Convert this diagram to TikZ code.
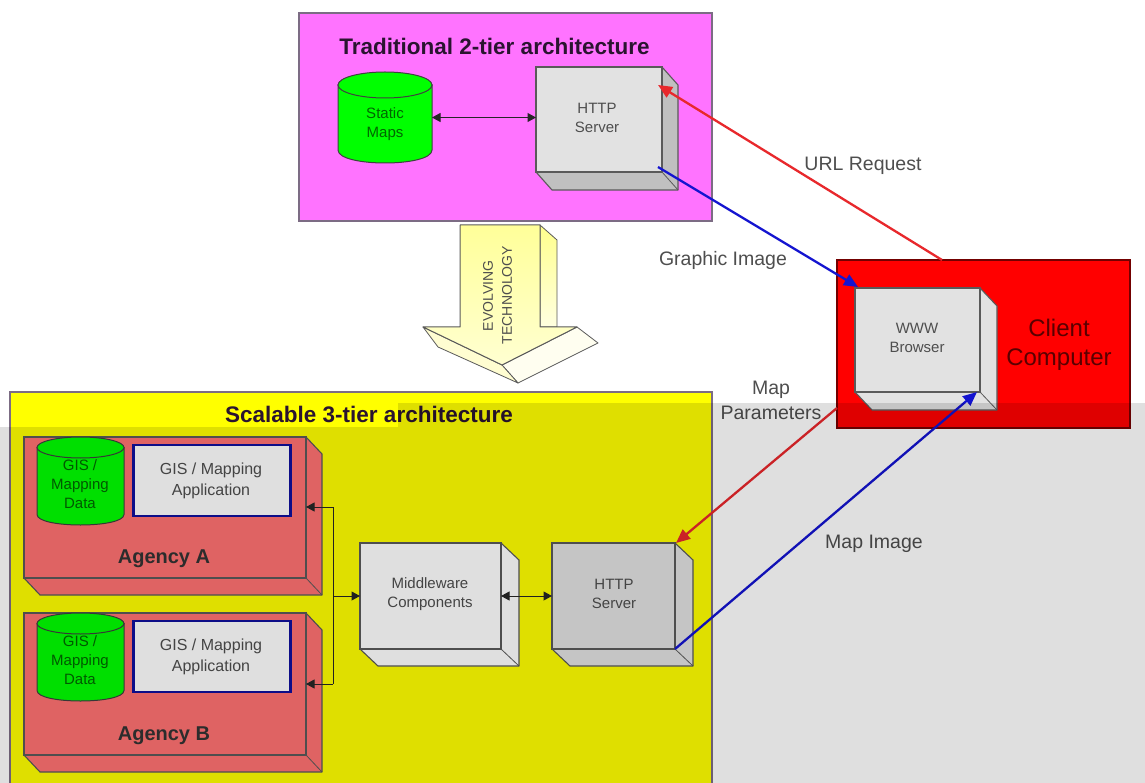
\documentclass[tikz,border=0pt]{standalone}
\usepackage{fontspec}
\setmainfont{Liberation Sans}
\usetikzlibrary{calc,arrows.meta}
\definecolor{edge}{HTML}{5A5A5A}
\definecolor{pedge}{HTML}{7C6C84}
\definecolor{panelm}{HTML}{FF73FF}
\definecolor{panely}{HTML}{FFFF00}
\definecolor{agency}{HTML}{FF7272}
\definecolor{cylg}{HTML}{00FF00}
\definecolor{facea}{HTML}{E2E2E2}
\definecolor{sidea}{HTML}{C0C0C0}
\definecolor{arrowred}{HTML}{E8282C}
\definecolor{arrowblue}{HTML}{1414D0}
\definecolor{labelc}{HTML}{4E4E4E}
\definecolor{headc}{HTML}{2A1430}
\tikzset{
  x=1pt,y=-1pt,
  panel/.style={draw=pedge,line width=1.4pt,inner sep=0pt,outer sep=0pt},
  front/.style={draw=edge,line width=1.2pt,inner sep=0pt,outer sep=0pt},
  smalltxt/.style={text=labelc,align=center,inner sep=0pt,font=\fontsize{15}{19}\selectfont},
  apptxt/.style={text=labelc,align=center,inner sep=0pt,font=\fontsize{16}{21}\selectfont},
  lbltxt/.style={text=labelc,align=center,inner sep=0pt,font=\fontsize{19.5}{25}\selectfont},
  headtxt/.style={text=headc,inner sep=0pt,font=\bfseries\fontsize{22.5}{27}\selectfont},
  agencytxt/.style={text=black!80,inner sep=0pt,font=\bfseries\fontsize{20}{24}\selectfont},
  blk/.style={draw=black!85,line width=1pt,{Triangle[length=8.5pt,width=9pt]}-{Triangle[length=8.5pt,width=9pt]}},
  blkone/.style={draw=black!85,line width=1pt,-{Triangle[length=8.5pt,width=9pt]}},
  blkback/.style={draw=black!85,line width=1pt,{Triangle[length=8.5pt,width=9pt]}-},
  redarrow/.style={draw=arrowred,line width=2.3pt,-{Triangle[length=14pt,width=12pt]}},
  bluearrow/.style={draw=arrowblue,line width=2.3pt,-{Triangle[length=14pt,width=12pt]}},
}
% name, x1, y1, x2, y2, dx, dy, front colour, side colour
\newcommand{\boxthree}[9]{%
  \pgfmathsetmacro{\bw}{#4-#2}\pgfmathsetmacro{\bh}{#5-#3}%
  \pgfmathsetmacro{\bx}{(#4+#2)/2}\pgfmathsetmacro{\by}{(#5+#3)/2}%
  \path[fill=#9,draw=edge,line width=1.1pt,line join=round]
     (#4,#3) -- ({#4+#6},{#3+#7}) -- ({#4+#6},{#5+#7}) -- ({#2+#6},{#5+#7}) -- (#2,#5) -- cycle;
  \draw[edge,line width=.8pt] (#4,#5) -- ({#4+#6},{#5+#7});
  \node[front,fill=#8,minimum width=\bw pt,minimum height=\bh pt] (#1) at (\bx,\by) {};
}
% name, left, right, top, bottom, ry
\newcommand{\cylthree}[6]{%
  \pgfmathsetmacro{\bw}{#3-#2}\pgfmathsetmacro{\bh}{#5-#4}%
  \pgfmathsetmacro{\bx}{(#3+#2)/2}\pgfmathsetmacro{\by}{(#5+#4)/2}%
  \pgfmathsetmacro{\rx}{(#3-#2)/2}\pgfmathsetmacro{\ct}{#4+#6}%
  \pgfmathsetmacro{\cb}{#5-#6}\pgfmathsetmacro{\cc}{#5+#6/3}%
  \path[fill=cylg,draw=black!75,line width=1pt]
    (#2,\ct) -- (#2,\cb) .. controls (#2,\cc) and (#3,\cc) .. (#3,\cb) -- (#3,\ct) -- cycle;
  \path[fill=cylg,draw=black!75,line width=1pt] (\bx,\ct) ellipse [x radius=\rx pt,y radius=#6 pt];
  \node[inner sep=0pt,outer sep=0pt,minimum width=\bw pt,minimum height=\bh pt] (#1) at (\bx,\by) {};
}
\begin{document}
\begin{tikzpicture}
\useasboundingbox (0,0) rectangle (1145,783);
\fill[white] (0,0) rectangle (1145,783);

% panels
\node[panel,fill=panelm,minimum width=413pt,minimum height=208pt] (top) at (505.5,117) {};
\node[panel,fill=panely,minimum width=702pt,minimum height=400pt] (low) at (361,592) {};
\node[panel,draw=black!55!red,fill=red,minimum width=293pt,minimum height=168pt] (client) at (983.5,344) {};

\node[headtxt] (toptitle) at (494.5,46) {Traditional 2-tier architecture};
\node[headtxt] (lowtitle) at (369,414) {Scalable 3-tier architecture};

% evolving technology arrow
\path[top color=yellow!45,bottom color=yellow!12,draw=edge,line width=.8pt,line join=round]
  (540,225) -- (557,240) -- (557,327) -- (540,327) -- cycle;
\path[fill=yellow!6,draw=edge,line width=.8pt,line join=round]
  (502,365) -- (577,327) -- (598,343) -- (518,383) -- cycle;
\path[fill=yellow!18,draw=edge,line width=.8pt,line join=round]
  (423,327) -- (502,365) -- (518,383) -- (438,347) -- cycle;
\path[top color=yellow!40,bottom color=yellow!18,draw=edge,line width=1pt,line join=round]
  (460,225) -- (540,225) -- (540,327) -- (577,327) -- (502,365) -- (423,327) -- (460,327) -- cycle;
\node[rotate=90,text=labelc,inner sep=0pt,font=\fontsize{14}{18}\selectfont] (evo) at (488,296) {EVOLVING};
\node[rotate=90,text=labelc,inner sep=0pt,font=\fontsize{14}{18}\selectfont] (tech) at (507,295) {TECHNOLOGY};

% upper tier
\cylthree{maps}{338}{432}{72}{163}{13}
\node[smalltxt,text=black!60!green] (mapstxt) at (385,124) {Static\\Maps};
\boxthree{http}{536}{67}{662}{172}{16}{18}{facea}{sidea}
\node[smalltxt] (httptxt) at (597,117.5) {HTTP\\Server};
\draw[blk] (maps.east) -- (maps.east -| http.west);

% agencies
\boxthree{agA}{24}{437}{306}{578}{16}{17}{agency}{agency}
\boxthree{agB}{24}{613}{306}{755}{16}{17}{agency}{agency}
\cylthree{dataA}{37}{124}{437}{525}{10.5}
\cylthree{dataB}{37}{124}{613}{701}{10.5}
\node[smalltxt,text=black!60!green] (dataAt) at (80,484) {GIS /\\Mapping\\Data};
\node[smalltxt,text=black!60!green] (dataBt) at (80,660) {GIS /\\Mapping\\Data};
\node[draw=arrowblue!75!black,line width=2.5pt,fill=white,minimum width=157pt,minimum height=71pt,inner sep=0pt] (appA) at (212,480.5) {};
\node[draw=arrowblue!75!black,line width=2.5pt,fill=white,minimum width=157pt,minimum height=71pt,inner sep=0pt] (appB) at (212,656.5) {};
\node[apptxt] (appAt) at (211,480.5) {GIS / Mapping\\Application};
\node[apptxt] (appBt) at (211,656.5) {GIS / Mapping\\Application};
\node[agencytxt] (agAt) at (164,558.5) {Agency A};
\node[agencytxt] (agBt) at (164,735.5) {Agency B};

% middle
\boxthree{mid}{360}{543}{501}{649}{18}{17}{white}{white}
\node[smalltxt] (midt) at (430,594) {Middleware\\Components};
\boxthree{httpb}{552}{543}{675}{649}{18}{17}{facea}{facea}
\node[smalltxt] (httpbt) at (614,594) {HTTP\\Server};

% bus
\coordinate (bus) at (333,596);
\coordinate (portA) at (306,507);
\coordinate (portB) at (306,684);
\draw[blkback] (portA) -- (portA -| bus) -- (portB -| bus);
\draw[blkback] (portB) -- (portB -| bus);
\draw[blkone] (bus) -- (bus -| mid.west);
\draw[blk] (mid.east) -- (httpb.west);

% browser
\boxthree{www}{855}{288}{980}{392}{17}{18}{facea}{facea}
\node[smalltxt] (wwwt) at (917,338) {WWW\\Browser};
\node[text=black!65!red,align=center,inner sep=0pt,font=\fontsize{24}{29}\selectfont] (clientt) at (1059,344.5) {Client\\Computer};

% long connectors
\coordinate (urlFrom) at (942,260);
\coordinate (urlTo) at (658,85);
\coordinate (gfxFrom) at (658,167);
\coordinate (gfxTo) at (858,287);
\coordinate (mpFrom) at (837,408);
\coordinate (mpTo) at (676,543);
\coordinate (miFrom) at (675,649);
\coordinate (miTo) at (977,392);
\draw[redarrow] (urlFrom) -- (urlTo);
\draw[bluearrow] (gfxFrom) -- (gfxTo);
\draw[redarrow] (mpFrom) -- (mpTo);
\draw[bluearrow] (miFrom) -- (miTo);

\node[lbltxt] (urll) at (863,165.5) {URL Request};
\node[lbltxt] (gfxl) at (723,260) {Graphic Image};
\node[lbltxt] (mpl) at (771,400.5) {Map\\Parameters};
\node[lbltxt] (mil) at (874,543.5) {Map Image};

% grey veil over the lower part
\fill[black,opacity=.125] (0,427) -- (398,427) -- (398,403) -- (1145,403) -- (1145,783) -- (0,783) -- cycle;
\end{tikzpicture}
\end{document}
